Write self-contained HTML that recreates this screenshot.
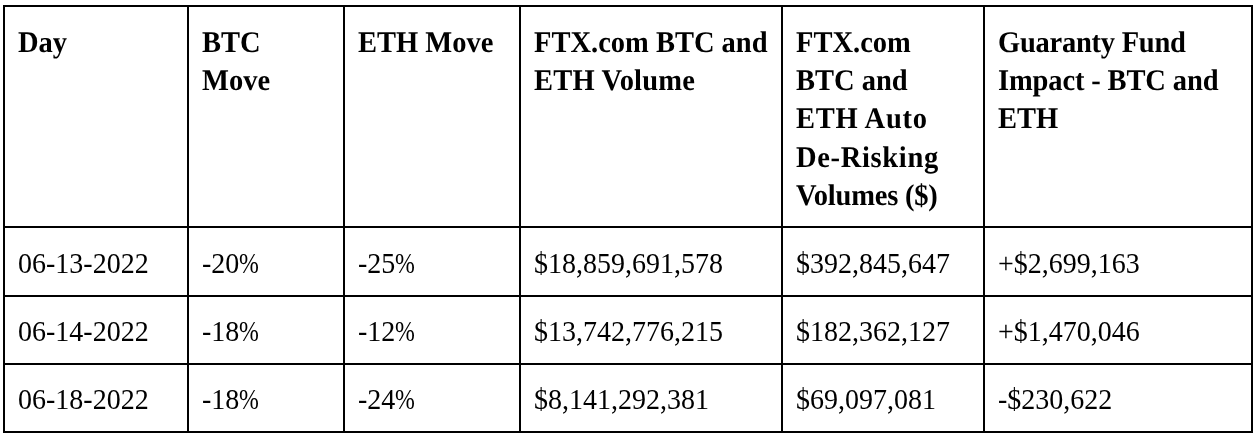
<!DOCTYPE html>
<html lang="en">
<head>
<meta charset="utf-8">
<title>FTX Guaranty Fund Impact</title>
<style>
  html, body { margin: 0; padding: 0; background: #ffffff; }
  body { width: 1260px; height: 440px; overflow: hidden; position: relative; }
  table { will-change: transform; }
  table {
    position: absolute; left: 3px; top: 5px;
    border-collapse: separate; border-spacing: 0;
    table-layout: fixed;
    border-left: 2px solid #000; border-top: 2px solid #000;
    font-family: "Liberation Serif", "Times New Roman", serif;
    font-size: 28px; line-height: 38px; color: #000;
  }
  td, th {
    box-sizing: border-box;
    border-right: 2px solid #000; border-bottom: 2px solid #000;
    padding: 0 0 0 13px;
    vertical-align: top; text-align: left; white-space: nowrap;
    overflow: hidden;
  }
  th { font-weight: bold; }
  td { font-weight: normal; }
  .c { transform-origin: 0 0; }
  th .c { font-size: 30px; text-rendering: geometricPrecision; transform: scaleX(0.95); line-height: 38.2px; padding-top: 17px; }
  td .c { transform: scaleY(1.03); line-height: 36.9px; padding-top: 17px; }
  tr.r td .c { padding-top: 16px; }
  .pct .p { display: inline-block; transform: scaleX(0.85); transform-origin: 0 0; }
  th .c { margin-left: -0.5px; }
  tr.h th { height: 221px; }
  tr.r1 td { height: 69px; }
  tr.r td { height: 68px; }
</style>
</head>
<body>
<table>
  <colgroup>
    <col style="width:184px">
    <col style="width:156px">
    <col style="width:176px">
    <col style="width:262px">
    <col style="width:202px">
    <col style="width:268px">
  </colgroup>
  <thead>
    <tr class="h">
      <th><div class="c">Day</div></th>
      <th><div class="c">BTC<br>Move</div></th>
      <th><div class="c">ETH Move</div></th>
      <th><div class="c">FTX.com BTC and<br><span style="letter-spacing:0.19px">ETH Volume</span></div></th>
      <th><div class="c">FTX.com<br>BTC and<br><span style="letter-spacing:0.75px">ETH Auto</span><br><span style="letter-spacing:0.7px">De-Risking</span><br><span style="letter-spacing:-0.21px">Volumes ($)</span></div></th>
      <th><div class="c"><span style="letter-spacing:-0.26px">Guaranty Fund</span><br><span style="letter-spacing:-0.14px">Impact - BTC and</span><br>ETH</div></th>
    </tr>
  </thead>
  <tbody>
    <tr class="r1">
      <td><div class="c">06-13-2022</div></td>
      <td><div class="c pct">-20<span class="p">%</span></div></td>
      <td><div class="c pct">-25<span class="p">%</span></div></td>
      <td><div class="c">$18,859,691,578</div></td>
      <td><div class="c">$392,845,647</div></td>
      <td><div class="c">+$2,699,163</div></td>
    </tr>
    <tr class="r">
      <td><div class="c">06-14-2022</div></td>
      <td><div class="c pct">-18<span class="p">%</span></div></td>
      <td><div class="c pct">-12<span class="p">%</span></div></td>
      <td><div class="c">$13,742,776,215</div></td>
      <td><div class="c">$182,362,127</div></td>
      <td><div class="c">+$1,470,046</div></td>
    </tr>
    <tr class="r">
      <td><div class="c">06-18-2022</div></td>
      <td><div class="c pct">-18<span class="p">%</span></div></td>
      <td><div class="c pct">-24<span class="p">%</span></div></td>
      <td><div class="c">$8,141,292,381</div></td>
      <td><div class="c">$69,097,081</div></td>
      <td><div class="c">-$230,622</div></td>
    </tr>
  </tbody>
</table>
</body>
</html>
